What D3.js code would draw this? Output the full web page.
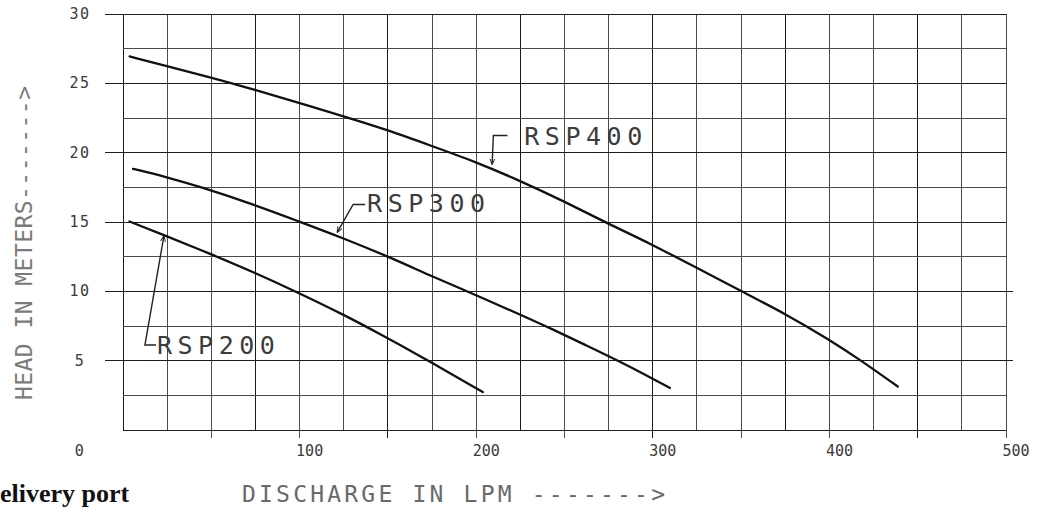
<!DOCTYPE html>
<html>
<head>
<meta charset="utf-8">
<script src="https://cdn.jsdelivr.net/npm/d3@7"></script>
<style>
  body { margin: 0; background: #fff; }
  .cad { font-family: "DejaVu Sans Mono", monospace; }
</style>
</head>
<body>
<div id="chart"></div>
<script>
// Pump curves (discharge in LPM, head in metres)
const rsp400Q = [4, 25, 50, 75, 100, 130, 150, 174, 200, 224, 251, 274, 299, 323, 350, 376, 400, 418, 439];
const rsp400H = [26.9, 26.2, 25.4, 24.5, 23.55, 22.4, 21.6, 20.5, 19.3, 18.0, 16.4, 14.9, 13.4, 11.8, 10.0, 8.3, 6.5, 5.0, 3.1];
const rsp300Q = [6, 25, 44, 75, 100, 123, 150, 176, 200, 225, 244, 262, 280, 296, 310];
const rsp300H = [18.8, 18.2, 17.5, 16.2, 15.0, 13.9, 12.5, 11.0, 9.7, 8.3, 7.2, 6.1, 5.0, 3.95, 3.0];
const rsp200Q = [4, 23, 51, 75, 99, 125, 150, 157, 174, 204];
const rsp200H = [15.0, 14.05, 12.6, 11.3, 9.9, 8.3, 6.6, 6.1, 4.9, 2.7];

const seriesNames = ["RSP400", "RSP300", "RSP200"];

// Tick labels
const xTickLabels = [100, 200, 300, 400, 500];
const yTickLabels = [0, 5, 10, 15, 20, 25, 30];

// Callout anchors in data units (text start, leader points)
const calloutText = [[227.5, 20.5], [138.5, 15.65], [19.5, 5.43]];
const calloutLeader = [
    [[218, 21.2], [210, 21.2], [209.3, 19.1]],
    [[137.4, 16.23], [130.6, 16.23], [121.5, 14.2]],
    [[19, 6.09], [12.7, 6.09], [23.5, 13.99]]
];

const width = 1051;
const height = 507;

const svg = d3.select("#chart")
    .append("svg")
    .attr("width", width)
    .attr("height", height)
    .style("background", "#fff");

const x = d3.scaleLinear().domain([0, 500]).range([122.5, 1005.5]);
const y = d3.scaleLinear().domain([0, 30]).range([429.5, 13.5]);

// Arrow head for the leaders
svg.append("defs").append("marker")
    .attr("id", "tip")
    .attr("viewBox", "0 0 10 10")
    .attr("refX", 10).attr("refY", 5)
    .attr("markerWidth", 6).attr("markerHeight", 6)
    .attr("markerUnits", "userSpaceOnUse")
    .attr("orient", "auto")
    .append("path")
    .attr("d", "M0,1 L10,5 L0,9")
    .attr("fill", "none")
    .attr("stroke", "#222")
    .attr("stroke-width", 1.6);

// Grid
const grid = svg.append("g")
    .attr("stroke", "#3a3a3a")
    .attr("stroke-width", 1)
    .attr("shape-rendering", "crispEdges");

grid.selectAll(".v")
    .data(d3.range(0, 501, 25))
    .enter().append("line")
    .attr("x1", d => Math.round(x(d)) + 0.5)
    .attr("x2", d => Math.round(x(d)) + 0.5)
    .attr("y1", y(30))
    .attr("y2", d => d % 50 === 0 && d > 0 ? y(0) + 8 : y(0))
    .attr("stroke", (d, i) => i % 3 === 0 ? "#1a1a1a" : "#4a4a4a");

grid.selectAll(".h")
    .data(d3.range(0, 30.1, 2.5))
    .enter().append("line")
    .attr("x1", d => d % 5 === 0 && d > 0 ? x(0) - 18 : x(0))
    .attr("x2", d => d === 10 || d === 5 ? x(500) + 7 : x(500))
    .attr("y1", d => Math.round(y(d)) + 0.5)
    .attr("y2", d => Math.round(y(d)) + 0.5)
    .attr("stroke", d => d % 5 === 0 ? "#1e1e1e" : "#4a4a4a");

// Tick labels
svg.append("g")
    .selectAll("text")
    .data(yTickLabels)
    .enter().append("text")
    .attr("class", "cad")
    .attr("x", 80)
    .attr("y", d => d === 0 ? y(0) + 21 : y(d))
    .attr("dy", "0.36em")
    .attr("text-anchor", "middle")
    .attr("letter-spacing", 1.5)
    .style("font-size", "15px")
    .attr("fill", "#3a3a3a")
    .text(d => d);

svg.append("g")
    .selectAll("text")
    .data(xTickLabels)
    .enter().append("text")
    .attr("class", "cad")
    .attr("x", d => x(d) - 3)
    .attr("y", 456)
    .style("font-size", "15px")
    .attr("fill", "#3a3a3a")
    .text(d => d);

// Curves
const line = d3.line()
    .x(d => x(d[0]))
    .y(d => y(d[1]))
    .curve(d3.curveBasis);

const curves = [
    d3.zip(rsp400Q, rsp400H),
    d3.zip(rsp300Q, rsp300H),
    d3.zip(rsp200Q, rsp200H)
];

svg.append("g")
    .selectAll("path")
    .data(curves)
    .enter().append("path")
    .attr("d", line)
    .attr("fill", "none")
    .attr("stroke", "#111")
    .attr("stroke-width", 2.3)
    .attr("stroke-linecap", "round");

// Callouts
const leader = d3.line().x(d => x(d[0])).y(d => y(d[1]));

svg.append("g")
    .selectAll("path")
    .data(calloutLeader)
    .enter().append("path")
    .attr("d", leader)
    .attr("fill", "none")
    .attr("stroke", "#222")
    .attr("stroke-width", 1.4)
    .attr("marker-end", "url(#tip)");

svg.append("g")
    .selectAll("text")
    .data(seriesNames)
    .enter().append("text")
    .attr("class", "cad")
    .attr("x", (d, i) => x(calloutText[i][0]))
    .attr("y", (d, i) => y(calloutText[i][1]))
    .attr("textLength", 118)
    .attr("lengthAdjust", "spacing")
    .style("font-size", "25px")
    .attr("fill", "#3c3c3c")
    .text(d => d);

// Axis titles
svg.append("text")
    .attr("class", "cad")
    .attr("x", 242)
    .attr("y", 502)
    .attr("textLength", 423)
    .attr("lengthAdjust", "spacing")
    .style("font-size", "23px")
    .attr("fill", "#6a6a6a")
    .text("DISCHARGE IN LPM ------->");

svg.append("text")
    .attr("class", "cad")
    .attr("transform", "translate(32, 400) rotate(-90)")
    .attr("textLength", 314)
    .attr("lengthAdjust", "spacing")
    .style("font-size", "23px")
    .attr("fill", "#7a7a7a")
    .text("HEAD IN METERS------->");

// Caption fragment cut off at the left edge of the scan
svg.append("text")
    .attr("x", 0)
    .attr("y", 502)
    .style("font-family", "'Liberation Serif', serif")
    .style("font-weight", "bold")
    .style("font-size", "26px")
    .attr("fill", "#111")
    .text("elivery port");
</script>
</body>
</html>
